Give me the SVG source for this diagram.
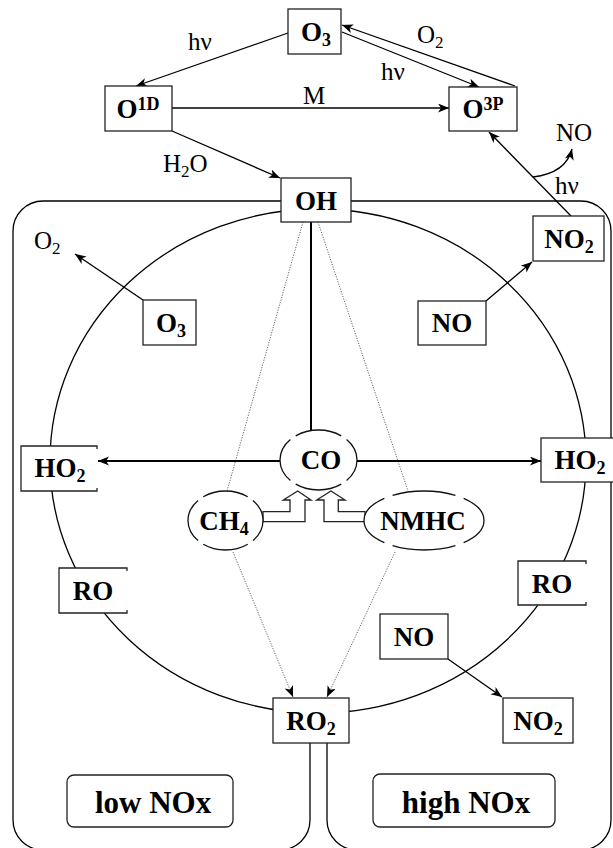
<svg xmlns="http://www.w3.org/2000/svg" width="613" height="848" viewBox="0 0 613 848">
<style>
.bx{fill:#fff;stroke:#222;stroke-width:1.3}
.open{fill:none;stroke:#222;stroke-width:1.3}
.wf{fill:#fff;stroke:none}
.ln{fill:none;stroke:#000;stroke-width:1.3}
.thk{fill:none;stroke:#000;stroke-width:2}
.dot{fill:none;stroke:#666;stroke-width:1;stroke-dasharray:1.2 1.4}
.el{fill:#fff;stroke:#111;stroke-width:1.3;stroke-dasharray:22 3;stroke-dashoffset:11}
.b{font-family:"Liberation Serif","Times New Roman",serif;font-weight:bold;font-size:27px;fill:#000;text-anchor:middle}
.r{font-family:"Liberation Serif","Times New Roman",serif;font-size:25px;fill:#000}
.big{font-family:"Liberation Serif","Times New Roman",serif;font-weight:bold;font-size:31px;fill:#000;text-anchor:middle}
.s{font-size:18px}
</style>
<defs>
<marker id="ah" markerUnits="userSpaceOnUse" markerWidth="12" markerHeight="10" refX="11" refY="4.5" orient="auto">
<path d="M0,0 L11,4.5 L0,9 L3,4.5 z" fill="#000"/>
</marker>
</defs>
<g id="frame">
<path class="ln" d="M310,743 V820 A30,30 0 0 1 280,850 H43 A30,30 0 0 1 13,820 V231 A30,30 0 0 1 43,201 H581 A30,30 0 0 1 611,231 V820 A30,30 0 0 1 581,850 H357 A30,30 0 0 1 327,820 V743"/>
<ellipse cx="318" cy="461" rx="268" ry="252" class="ln"/>
</g>
<g id="connectors">
<path class="dot" d="M303,222 L227,491"/>
<path class="dot" d="M233,552 L293,697" marker-end="url(#ah)"/>
<path class="dot" d="M318,222 L408,491"/>
<path class="dot" d="M395,552 L327,697" marker-end="url(#ah)"/>
<path class="ln" d="M288,33 L136,86" marker-end="url(#ah)"/>
<path class="ln" d="M172,108 L449,108" marker-end="url(#ah)"/>
<path class="ln" d="M172,131 L280,178" marker-end="url(#ah)"/>
<path class="ln" d="M515,86 L342,25" marker-end="url(#ah)"/>
<path class="ln" d="M342,32 L479,87" marker-end="url(#ah)"/>
<path class="ln" d="M571,216 L489,132" marker-end="url(#ah)"/>
<path class="ln" d="M533,177 Q566,173 572,149" marker-end="url(#ah)"/>
<path class="ln" d="M143,300 L75,254" marker-end="url(#ah)"/>
<path class="ln" d="M486,301 L532,262" marker-end="url(#ah)"/>
<path class="ln" d="M448,659 L502,697" marker-end="url(#ah)"/>
<path class="thk" d="M311,222 V431"/>
<path class="thk" d="M280,461 L98,461" marker-end="url(#ah)"/>
<path class="thk" d="M357,461 L541,461" marker-end="url(#ah)"/>
<polygon class="bx" points="263,511.7 290,511.7 290,500 283.3,500 297.7,491 311,500 305,500 305,521.7 263,521.7"/>
<polygon class="bx" points="365,511.7 338.3,511.7 338.3,500 345,500 331,491 316.7,500 324,500 324,521.7 365,521.7"/>
</g>
<g id="labels">
<text class="r" x="200" y="50" text-anchor="middle">hν</text>
<text class="r" x="314" y="104" text-anchor="middle">M</text>
<text class="r" x="163" y="172">H<tspan font-size="17" dy="5">2</tspan><tspan dy="-5">O</tspan></text>
<text class="r" x="417" y="43">O<tspan font-size="17" dy="5">2</tspan></text>
<text class="r" x="393" y="80" text-anchor="middle">hν</text>
<text class="r" x="574" y="141" text-anchor="middle">NO</text>
<text class="r" x="567" y="194" text-anchor="middle">hν</text>
<text class="r" x="34" y="249">O<tspan font-size="17" dy="5">2</tspan></text>
</g>
<g id="n-O3top"><rect class="bx" x="288" y="9" width="53" height="45"/><text class="b" x="316" y="41">O<tspan class="s" dy="5">3</tspan></text></g>
<g id="n-O1D"><rect class="bx" x="105" y="86" width="67" height="45"/><text class="b" x="138" y="118">O<tspan class="s" dy="-8">1D</tspan></text></g>
<g id="n-O3P"><rect class="bx" x="449" y="87" width="68" height="44"/><text class="b" x="483" y="118">O<tspan class="s" dy="-8">3P</tspan></text></g>
<g id="n-OH"><rect class="bx" x="281" y="178" width="70" height="44"/><text class="b" x="316" y="210">OH</text></g>
<g id="n-O3in"><rect class="bx" x="143" y="300" width="53" height="45"/><text class="b" x="171" y="332">O<tspan class="s" dy="5">3</tspan></text></g>
<g id="n-NO2top"><rect class="bx" x="533" y="216" width="71" height="45"/><text class="b" x="569" y="248">NO<tspan class="s" dy="5">2</tspan></text></g>
<g id="n-NOtop"><rect class="bx" x="418" y="301" width="68" height="44"/><text class="b" x="452" y="332">NO</text></g>
<g id="n-CO"><ellipse class="el" cx="318.5" cy="460" rx="38.5" ry="30" pathLength="100"/><text class="b" x="321" y="469">CO</text></g>
<g id="n-CH4"><ellipse class="el" cx="225.5" cy="520.5" rx="37.5" ry="29.5" pathLength="100"/><text class="b" x="224" y="530">CH<tspan class="s" dy="5">4</tspan></text></g>
<g id="n-NMHC"><ellipse class="el" cx="424" cy="520.5" rx="60" ry="29.5" pathLength="100"/><text class="b" x="423" y="530">NMHC</text></g>
<g id="n-HO2left"><rect class="wf" x="21" y="446" width="76" height="45"/><path class="open" d="M97,449 V446 H21 V491 H97 V488"/><text class="b" x="60" y="477">HO<tspan class="s" dy="5">2</tspan></text></g>
<g id="n-HO2right"><rect class="bx" x="541" y="438" width="76" height="44"/><text class="b" x="580" y="469">HO<tspan class="s" dy="5">2</tspan></text></g>
<g id="n-ROleft"><rect class="wf" x="59" y="568" width="68" height="45"/><path class="open" d="M127,571 V568 H59 V613 H127 V610"/><text class="b" x="93" y="600">RO</text></g>
<g id="n-ROright"><rect class="wf" x="518" y="561" width="68" height="44"/><path class="open" d="M586,564 V561 H518 V605 H586 V602"/><text class="b" x="552" y="593">RO</text></g>
<g id="n-NOlow"><rect class="bx" x="380" y="614" width="68" height="45"/><text class="b" x="414" y="646">NO</text></g>
<g id="n-NO2low"><rect class="bx" x="503" y="698" width="70" height="45"/><text class="b" x="538" y="730">NO<tspan class="s" dy="5">2</tspan></text></g>
<g id="n-RO2"><rect class="bx" x="273" y="698" width="76" height="45"/><text class="b" x="311" y="730">RO<tspan class="s" dy="5">2</tspan></text></g>
<g id="n-low"><rect class="bx" x="67" y="775" width="166" height="52" rx="7"/><text class="big" x="153" y="813">low NOx</text></g>
<g id="n-high"><rect class="bx" x="373" y="774" width="182" height="53" rx="7"/><text class="big" x="466" y="813">high NOx</text></g>
</svg>
